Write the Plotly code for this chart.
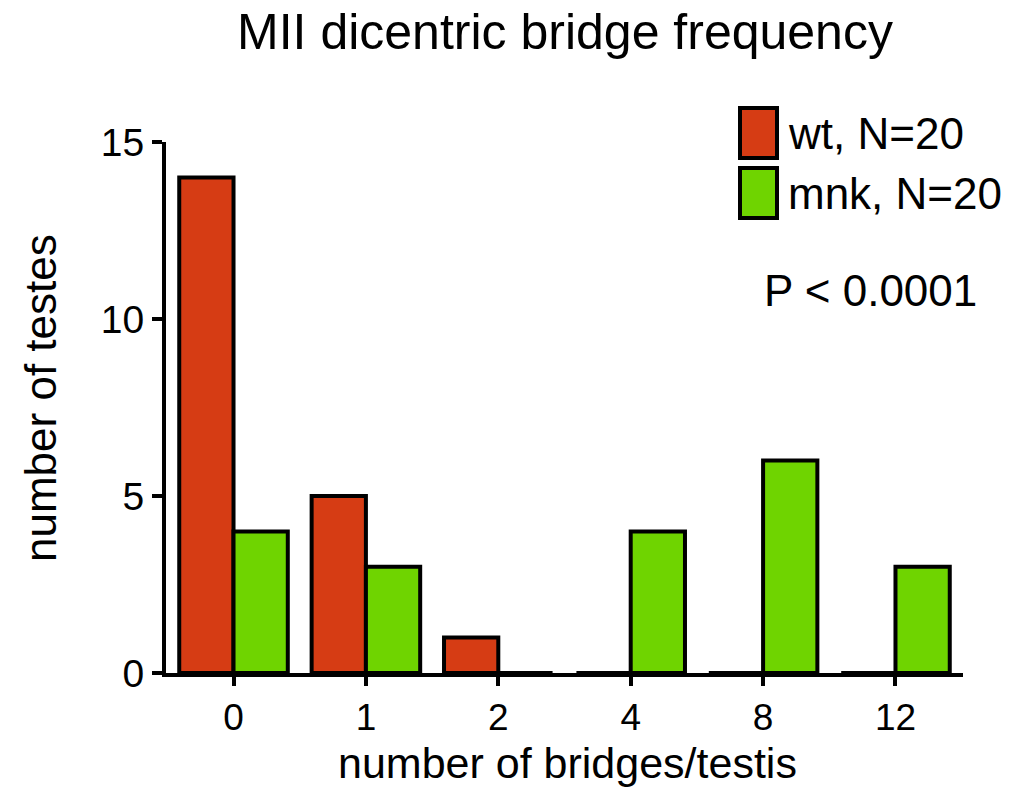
import plotly.graph_objects as go

categories = ["0", "1", "2", "4", "8", "12"]
wt_values = [14, 5, 1, 0, 0, 0]
mnk_values = [4, 3, 0, 4, 6, 3]
y_ticks = [0, 5, 10, 15]
series_names = ["wt, N=20", "mnk, N=20"]
series_colors = ["#D63C14", "#6FD400"]

FONT = "Liberation Sans, Arial, sans-serif"

fig = go.Figure()
fig.add_trace(go.Bar(x=categories, y=wt_values, name=series_names[0],
                     marker=dict(color=series_colors[0], line=dict(color="black", width=4))))
fig.add_trace(go.Bar(x=categories, y=mnk_values, name=series_names[1],
                     marker=dict(color=series_colors[1], line=dict(color="black", width=4))))

W, H = 1015, 787
L, T = 166, 142
R = W - 963
B = H - 673
pw, ph = W - L - R, H - T - B

def px_x(p):
    return (p - L) / pw

def px_y(p):
    return (H - B - p) / ph

# custom legend
boxes = [(108, 158), (168, 218)]
for (y0, y1), nm, col in zip(boxes, series_names, series_colors):
    fig.add_shape(type="rect", xref="paper", yref="paper",
                  x0=px_x(740), x1=px_x(777), y0=px_y(y1), y1=px_y(y0),
                  fillcolor=col, line=dict(color="black", width=4))
    fig.add_annotation(xref="paper", yref="paper", x=px_x(786), y=px_y((y0 + y1) / 2),
                       text=nm, showarrow=False, xanchor="left", yanchor="middle",
                       font=dict(size=44, color="black", family=FONT))

fig.add_annotation(xref="paper", yref="paper", x=px_x(870), y=px_y(290),
                   text="P < 0.0001", showarrow=False, xanchor="center", yanchor="middle",
                   font=dict(size=44, color="black", family=FONT))

# axis titles
fig.add_annotation(xref="paper", yref="paper", x=px_x(567), y=px_y(763),
                   text="number of bridges/testis", showarrow=False,
                   xanchor="center", yanchor="middle",
                   font=dict(size=43, color="black", family=FONT))
fig.add_annotation(xref="paper", yref="paper", x=px_x(40), y=px_y(398),
                   text="number of testes", showarrow=False, textangle=-90,
                   xanchor="center", yanchor="middle",
                   font=dict(size=44, color="black", family=FONT))

fig.update_layout(
    width=W, height=H,
    margin=dict(l=L, r=R, t=T, b=B, autoexpand=False),
    paper_bgcolor="white", plot_bgcolor="white",
    barmode="group", bargap=0.18, bargroupgap=0,
    showlegend=False,
    font=dict(family=FONT, color="black"),
    title=dict(text="MII dicentric bridge frequency", x=565 / W, xanchor="center",
               xref="container", yref="container",
               y=1 - 31 / H, yanchor="middle",
               font=dict(size=50, family=FONT, color="black")),
    xaxis=dict(type="category", range=[-0.51, 5.51], showline=True, linecolor="black",
               linewidth=4, ticks="outside", ticklen=9, tickwidth=4, tickcolor="black",
               tickfont=dict(size=37, family=FONT), showgrid=False, zeroline=False,
               automargin=False),
    yaxis=dict(range=[0, 15], tickvals=y_ticks, showline=True, linecolor="black",
               linewidth=4, ticks="outside", ticklen=10, tickwidth=4, tickcolor="black",
               tickfont=dict(size=39, family=FONT), showgrid=False, zeroline=False,
               automargin=False),
)

# remove the default 8px page margin so the figure fills the window exactly
fig.write_html("out.html", config={"displayModeBar": False},
               post_script="document.body.style.margin='0';")
